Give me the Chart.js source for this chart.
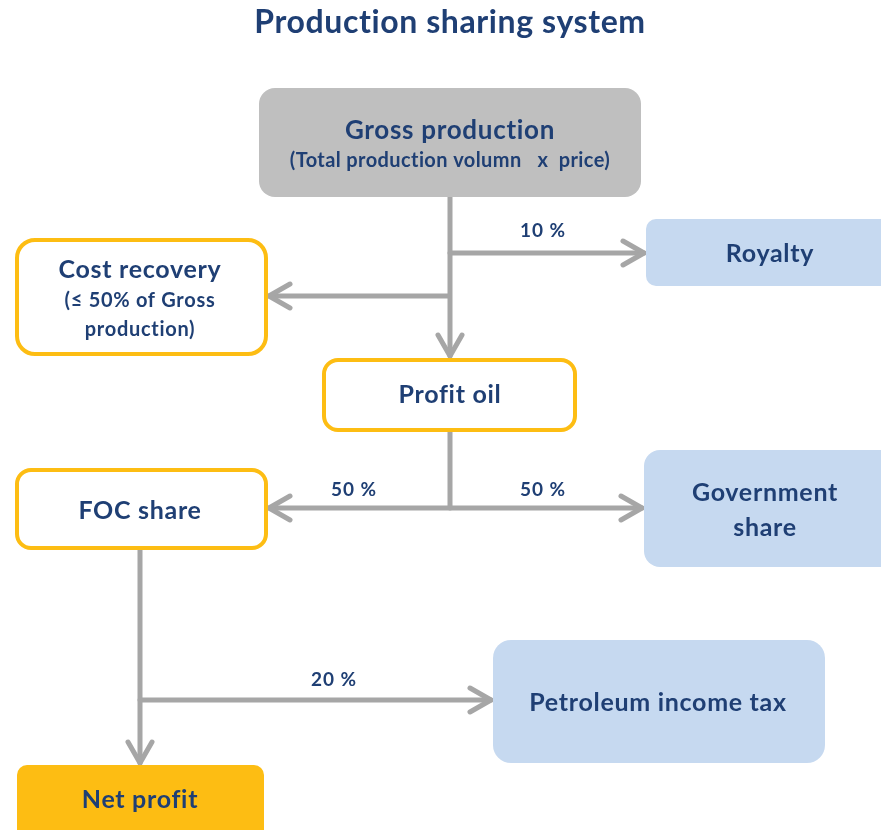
<!DOCTYPE html>
<html>
<head>
<meta charset="utf-8">
<script src="https://cdn.jsdelivr.net/npm/chart.js@4/dist/chart.umd.min.js"></script>
<style>
  html, body { margin: 0; padding: 0; background: #ffffff; }
  #wrap { width: 881px; height: 830px; }
</style>
</head>
<body>
<div id="wrap"><canvas id="c" width="881" height="830"></canvas></div>
<script>
// ---- content (text) ----
const chartTitle = 'Production sharing system';
const nodeNames = ['Gross production', 'Royalty', 'Cost recovery', 'Profit oil', 'FOC share', 'Government share', 'Petroleum income tax', 'Net profit'];
const nodeTitleLines = [['Gross production'], ['Royalty'], ['Cost recovery'], ['Profit oil'], ['FOC share'], ['Government', 'share'], ['Petroleum income tax'], ['Net profit']];
const nodeSubLines = [['(Total production volumn   x  price)'], [], ['(\u2264 50% of Gross', 'production)'], [], [], [], [], []];
const flowLabels = ['10 %', '50 %', '50 %', '20 %'];

// ---- layout (chart units = px in an 881 x 830 frame) ----
const boxLayout = [
  { x0: 259, y0: 88,  x1: 641, y1: 197, r: 16, kind: 'grey' },
  { x0: 646, y0: 219, x1: 895, y1: 286, r: 10, kind: 'blue' },
  { x0: 17,  y0: 240, x1: 266, y1: 354, r: 18, kind: 'outline' },
  { x0: 324, y0: 360, x1: 575, y1: 430, r: 14, kind: 'outline' },
  { x0: 17,  y0: 470, x1: 266, y1: 548, r: 14, kind: 'outline' },
  { x0: 644, y0: 450, x1: 895, y1: 567, r: 16, kind: 'blue' },
  { x0: 493, y0: 640, x1: 825, y1: 763, r: 18, kind: 'blue' },
  { x0: 17,  y0: 765, x1: 264, y1: 845, r: 10, kind: 'gold' }
];
const textLayout = [
  { cx: 450, ys: [131], subYs: [161], size: 26, subSize: 20, subSp: 0.4 },
  { cx: 770, ys: [254], subYs: [], size: 25 },
  { cx: 140, ys: [270], subYs: [301, 330], size: 25, subSize: 20, subSp: 0.7 },
  { cx: 450, ys: [395], subYs: [], size: 25 },
  { cx: 140, ys: [511], subYs: [], size: 25 },
  { cx: 765, ys: [493, 528], subYs: [], size: 25 },
  { cx: 658, ys: [703], subYs: [], size: 25 },
  { cx: 140, ys: [800], subYs: [], size: 25 }
];
// connectors: polyline segments, arrow heads at ends
const lines = [
  { pts: [[450, 197], [450, 356]], head: 'end' },
  { pts: [[450, 253], [644, 253]], head: 'end' },
  { pts: [[448, 296], [269, 296]], head: 'end' },
  { pts: [[450, 431], [450, 508]], head: 'none' },
  { pts: [[269, 508], [642, 508]], head: 'both' },
  { pts: [[140, 549], [140, 763]], head: 'end' },
  { pts: [[140, 700], [491, 700]], head: 'end' }
];
const labelLayout = [[543, 231], [354, 490], [543, 490], [334, 680]];

const styles = {
  grey: { fill: '#bfbfbf', stroke: null },
  blue: { fill: '#c6d9f0', stroke: null },
  outline: { fill: '#ffffff', stroke: '#fdbd13' },
  gold: { fill: '#fdbd13', stroke: null }
};
const textColor = '#1f3f74';
const lineColor = '#a6a6a6';
const FONT = 'Lato, "Open Sans", sans-serif';

const flowPlugin = {
  id: 'flow',
  afterDraw(chart) {
    const ctx = chart.ctx;
    const X = v => chart.scales.x.getPixelForValue(v);
    const Y = v => chart.scales.y.getPixelForValue(v);
    const setSp = px => { if ('letterSpacing' in ctx) ctx.letterSpacing = px + 'px'; };
    ctx.save();
    // title
    ctx.fillStyle = textColor;
    ctx.textAlign = 'center';
    ctx.textBaseline = 'middle';
    ctx.font = 'bold 32px ' + FONT;
    setSp(0.6);
    ctx.fillText(chartTitle, X(450), Y(23));

    // connectors
    ctx.strokeStyle = lineColor;
    ctx.lineWidth = 5;
    ctx.lineCap = 'round';
    ctx.lineJoin = 'round';
    const head = (tip, from) => {
      const dx = tip[0] - from[0], dy = tip[1] - from[1];
      const len = Math.hypot(dx, dy);
      const ux = dx / len, uy = dy / len;
      const back = 21, half = 12;
      ctx.beginPath();
      ctx.moveTo(X(tip[0] - ux * back - uy * half), Y(tip[1] - uy * back + ux * half));
      ctx.lineTo(X(tip[0]), Y(tip[1]));
      ctx.lineTo(X(tip[0] - ux * back + uy * half), Y(tip[1] - uy * back - ux * half));
      ctx.stroke();
    };
    lines.forEach(l => {
      ctx.beginPath();
      l.pts.forEach((p, i) => i ? ctx.lineTo(X(p[0]), Y(p[1])) : ctx.moveTo(X(p[0]), Y(p[1])));
      ctx.stroke();
      const n = l.pts.length;
      if (l.head === 'end' || l.head === 'both') head(l.pts[n - 1], l.pts[n - 2]);
      if (l.head === 'both') head(l.pts[0], l.pts[1]);
    });

    // boxes
    boxLayout.forEach((b, i) => {
      const st = styles[b.kind];
      ctx.beginPath();
      ctx.roundRect(X(b.x0), Y(b.y0), X(b.x1) - X(b.x0), Y(b.y1) - Y(b.y0), b.r);
      ctx.fillStyle = st.fill;
      ctx.fill();
      if (st.stroke) {
        ctx.strokeStyle = st.stroke;
        ctx.lineWidth = 4;
        ctx.stroke();
      }
      const t = textLayout[i];
      ctx.fillStyle = textColor;
      ctx.font = 'bold ' + t.size + 'px ' + FONT;
      setSp(0.7);
      nodeTitleLines[i].forEach((s, k) => ctx.fillText(s, X(t.cx), Y(t.ys[k])));
      if (nodeSubLines[i].length) {
        ctx.font = 'bold ' + t.subSize + 'px ' + FONT;
        setSp(t.subSp);
        nodeSubLines[i].forEach((s, k) => ctx.fillText(s, X(t.cx), Y(t.subYs[k])));
      }
    });

    // flow labels
    ctx.font = 'bold 19px ' + FONT;
    setSp(1);
    ctx.fillStyle = textColor;
    flowLabels.forEach((s, i) => ctx.fillText(s, X(labelLayout[i][0]), Y(labelLayout[i][1])));
    ctx.restore();
  }
};

new Chart(document.getElementById('c'), {
  type: 'scatter',
  data: { datasets: [{ label: 'nodes', data: [], pointRadius: 0 }] },
  options: {
    responsive: false,
    animation: false,
    events: [],
    layout: { padding: 0 },
    plugins: { legend: { display: false }, tooltip: { enabled: false }, title: { display: false } },
    scales: {
      x: { type: 'linear', min: 0, max: 881, display: false },
      y: { type: 'linear', min: 0, max: 830, reverse: true, display: false }
    }
  },
  plugins: [flowPlugin]
});
</script>
</body>
</html>
